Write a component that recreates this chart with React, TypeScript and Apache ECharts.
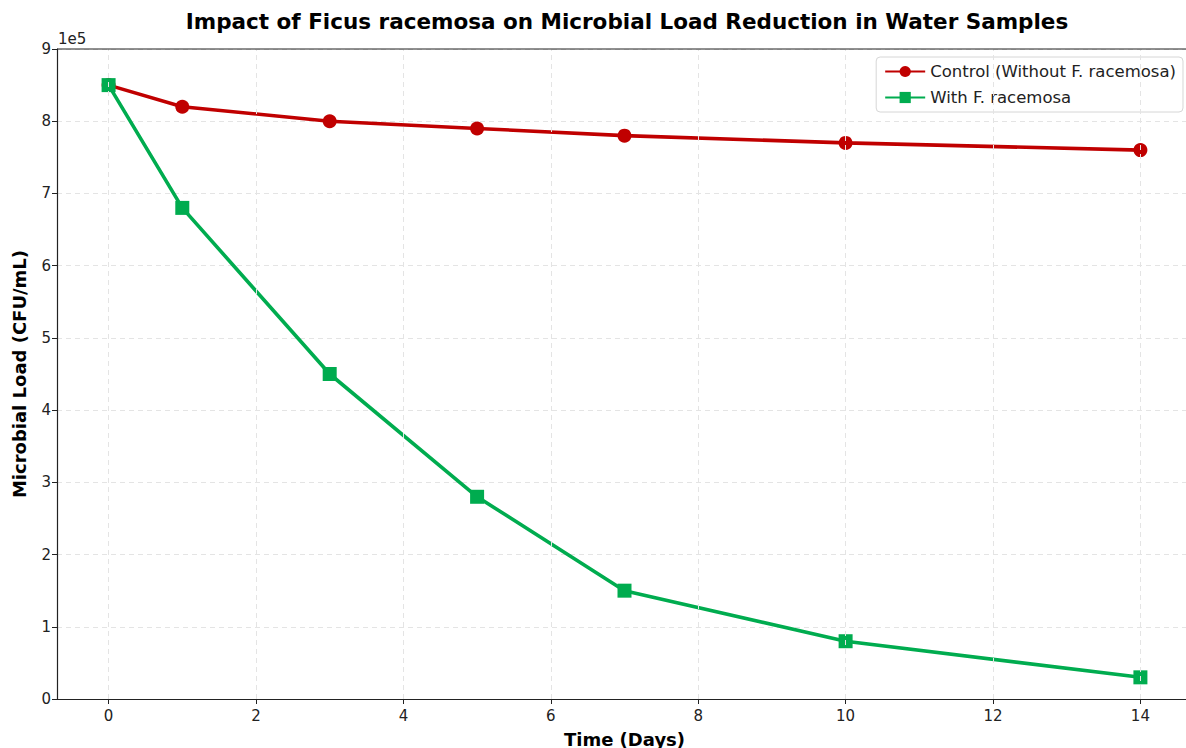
import React, { useEffect, useRef } from "react";
import * as echarts from "echarts";

const days = [0, 1, 3, 5, 7, 10, 14];
const controlLoad = [850000, 820000, 800000, 790000, 780000, 770000, 760000];
const treatedLoad = [850000, 680000, 450000, 280000, 150000, 80000, 30000];
const seriesNames = ["Control (Without F. racemosa)", "With F. racemosa"];
const xTicks = [0, 2, 4, 6, 8, 10, 12, 14];

export default function App() {
  const ref = useRef<HTMLDivElement>(null);
  useEffect(() => {
    if (!ref.current) return;
    const chart = echarts.init(ref.current, null, { renderer: "svg" });
    const font = "DejaVu Sans";
    const gridStyle = { color: "#e4e4e4", type: [5, 4] as number[], width: 1 };
    chart.setOption({
      animation: false,
      backgroundColor: "#ffffff",
      textStyle: { fontFamily: font },
      title: {
        text: "Impact of Ficus racemosa on Microbial Load Reduction in Water Samples",
        left: 622,
        textAlign: "center",
        top: 5,
        textStyle: { fontFamily: font, fontSize: 21.5, fontWeight: "bold", color: "#000" },
      },
      legend: {
        right: 9,
        top: 57,
        orient: "vertical",
        itemWidth: 40,
        itemHeight: 14,
        itemGap: 9,
        padding: [6, 7, 6, 8],
        borderColor: "#d6d6d6",
        borderWidth: 1,
        borderRadius: 4,
        backgroundColor: "rgba(255,255,255,0.85)",
        textStyle: { fontFamily: font, fontSize: 16.5, color: "#222" },
        data: seriesNames,
      },
      grid: {
        left: 57,
        right: 0,
        top: 49,
        bottom: 49,
        containLabel: false,
        outerBoundsMode: "none",
      },
      xAxis: {
        type: "value",
        min: -0.7,
        max: 14.7,
        name: "Time (Days)",
        nameLocation: "middle",
        nameGap: 31,
        nameTextStyle: { fontFamily: font, fontSize: 18, fontWeight: "bold", color: "#000" },
        axisLine: { show: true, onZero: false, lineStyle: { color: "#222", width: 1.2 } },
        axisTick: { show: true, length: 5, customValues: xTicks, lineStyle: { color: "#222" } },
        axisLabel: {
          fontFamily: font,
          fontSize: 15,
          color: "#222",
          margin: 9,
          customValues: xTicks,
        },
        splitLine: { show: false },
      },
      yAxis: {
        type: "value",
        min: 0,
        max: 900000,
        interval: 100000,
        name: "Microbial Load (CFU/mL)",
        nameLocation: "middle",
        nameGap: 29,
        nameTextStyle: { fontFamily: font, fontSize: 18, fontWeight: "bold", color: "#000" },
        axisLine: { show: true, onZero: false, lineStyle: { color: "#222", width: 1.2 } },
        axisTick: { show: true, length: 5, lineStyle: { color: "#222" } },
        axisLabel: {
          fontFamily: font,
          fontSize: 15,
          color: "#222",
          margin: 6,
          formatter: (v: number) => String(Math.round(v / 100000)),
        },
        splitLine: { show: true, lineStyle: gridStyle },
      },
      graphic: [
        {
          type: "text",
          left: 58,
          top: 31,
          style: { text: "1e5", fontFamily: font, fontSize: 15, fill: "#222" },
        },
        {
          type: "line",
          shape: { x1: 57, y1: 49, x2: 1192, y2: 49 },
          style: { stroke: "#222", lineWidth: 1.2 },
          z: 10,
        },
      ],
      series: [
        {
          type: "line",
          data: [],
          silent: true,
          markLine: {
            silent: true,
            symbol: "none",
            label: { show: false },
            lineStyle: gridStyle,
            data: xTicks.map((x) => ({ xAxis: x })),
          },
          z: 1,
        },
        {
          name: seriesNames[0],
          type: "line",
          data: days.map((d, i) => [d, controlLoad[i]]),
          symbol: "circle",
          symbolSize: 14,
          lineStyle: { color: "#c00000", width: 3.6 },
          itemStyle: { color: "#c00000" },
          z: 3,
        },
        {
          name: seriesNames[1],
          type: "line",
          data: days.map((d, i) => [d, treatedLoad[i]]),
          symbol: "rect",
          symbolSize: 14,
          lineStyle: { color: "#00ac4f", width: 3.6 },
          itemStyle: { color: "#00ac4f" },
          z: 4,
        },
      ],
    });
    return () => chart.dispose();
  }, []);
  return (
    <div
      style={{
        position: "fixed",
        left: 0,
        top: 0,
        width: 1186,
        height: 748,
        overflow: "hidden",
        background: "#fff",
      }}
    >
      <div ref={ref} style={{ width: 1192, height: 748 }} />
    </div>
  );
}
